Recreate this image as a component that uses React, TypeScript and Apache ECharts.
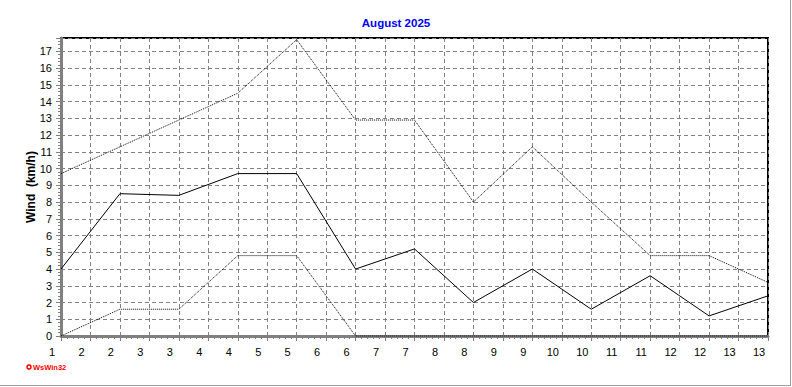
import React, { useEffect, useRef } from "react";
import * as echarts from "echarts";

const days = [1, 2, 3, 4, 5, 6, 7, 8, 9, 10, 11, 12, 13];
const windAvg = [4.0, 8.5, 8.4, 9.7, 9.7, 4.0, 5.2, 2.0, 4.0, 1.6, 3.6, 1.2, 2.4];
const windMax = [9.7, 11.3, 12.9, 14.5, 17.7, 12.9, 12.9, 8.0, 11.3, 8.0, 4.8, 4.8, 3.2];
const windMin = [0, 1.6, 1.6, 4.8, 4.8, 0, 0, 0, 0, 0, 0, 0, 0];
const chartTitle = "August 2025";
const yAxisTitle = "Wind  (km/h)";
const logoText = "WsWin32";
const xMin = 1;
const xMax = 13;
const yMin = 0;
const yMax = 17.8;

const FONT = "Liberation Sans, Arial, sans-serif";
const GRAY = "#808080";

export default function App() {
  const ref = useRef<HTMLDivElement>(null);
  useEffect(() => {
    document.body.style.margin = "0";
    if (!ref.current) return;
    const chart = echarts.init(ref.current, null, { renderer: "svg" });
    const toPairs = (vals: number[]) => days.map((d, i) => [d, vals[i]]);
    const lineSeries = (name: string, vals: number[], type: any) => ({
      name,
      type: "line",
      data: toPairs(vals),
      symbol: "none",
      clip: false,
      lineStyle: { color: "#000", width: 1, type },
      z: 5,
    });
    chart.setOption({
      animation: false,
      backgroundColor: "#fff",
      grid: {
        left: 61,
        right: 24,
        top: 38,
        bottom: 51,
        show: true,
        borderColor: "#000",
        borderWidth: 2,
        backgroundColor: "transparent",
      },
      xAxis: {
        type: "value",
        min: xMin,
        max: xMax,
        interval: 0.5,
        axisLine: { show: true, onZero: false, lineStyle: { color: GRAY, width: 3 } },
        axisTick: { show: true, length: 5, lineStyle: { color: GRAY } },
        minorTick: { show: true, splitNumber: 5, length: 3, lineStyle: { color: GRAY } },
        splitLine: { show: true, lineStyle: { color: GRAY, width: 1, type: [4, 3] } },
        axisLabel: {
          color: "#000",
          fontFamily: FONT,
          fontSize: 11,
          margin: 10,
          padding: [0, 18, 0, 0],
          showMinLabel: true,
          showMaxLabel: true,
          formatter: (v: number) => String(Math.round(v)),
        },
      },
      yAxis: {
        type: "value",
        min: yMin,
        max: yMax,
        interval: 1,
        axisLine: { show: true, onZero: false, lineStyle: { color: GRAY, width: 3 } },
        axisTick: { show: true, length: 5, lineStyle: { color: GRAY } },
        minorTick: { show: true, splitNumber: 5, length: 3, lineStyle: { color: GRAY } },
        splitLine: { show: true, lineStyle: { color: GRAY, width: 1, type: [4, 3] } },
        axisLabel: {
          color: "#000",
          fontFamily: FONT,
          fontSize: 11,
          margin: 9,
          formatter: (v: number) => (Math.abs(v - Math.round(v)) < 1e-6 ? String(Math.round(v)) : ""),
        },
      },
      series: [
        lineSeries("max", windMax, "dotted"),
        lineSeries("avg", windAvg, "solid"),
        lineSeries("min", windMin, "dotted"),
      ],
      graphic: [
        {
          type: "text",
          x: 396,
          y: 23,
          style: {
            text: chartTitle,
            fill: "#0000ff",
            font: `bold 11.5px ${FONT}`,
            align: "center",
            verticalAlign: "middle",
          },
        },
        {
          type: "text",
          x: 31,
          y: 187,
          rotation: Math.PI / 2,
          style: {
            text: yAxisTitle,
            fill: "#000",
            font: `bold 12px ${FONT}`,
            align: "center",
            verticalAlign: "middle",
          },
        },
        {
          type: "circle",
          shape: { cx: 29, cy: 367, r: 2 },
          style: { fill: "#fff", stroke: "#ff0000", lineWidth: 1.5 },
        },
        {
          type: "text",
          x: 33,
          y: 367,
          style: {
            text: logoText,
            fill: "#ff0000",
            font: `bold 7.5px ${FONT}`,
            align: "left",
            verticalAlign: "middle",
          },
        },
        {
          type: "line",
          shape: { x1: 790.5, y1: 0, x2: 790.5, y2: 386 },
          style: { stroke: "#a0a0a0", lineWidth: 1 },
        },
        {
          type: "line",
          shape: { x1: 0, y1: 385.5, x2: 791, y2: 385.5 },
          style: { stroke: "#a0a0a0", lineWidth: 1 },
        },
      ],
    });
    return () => chart.dispose();
  }, []);
  return <div ref={ref} style={{ width: 792, height: 387 }} />;
}
